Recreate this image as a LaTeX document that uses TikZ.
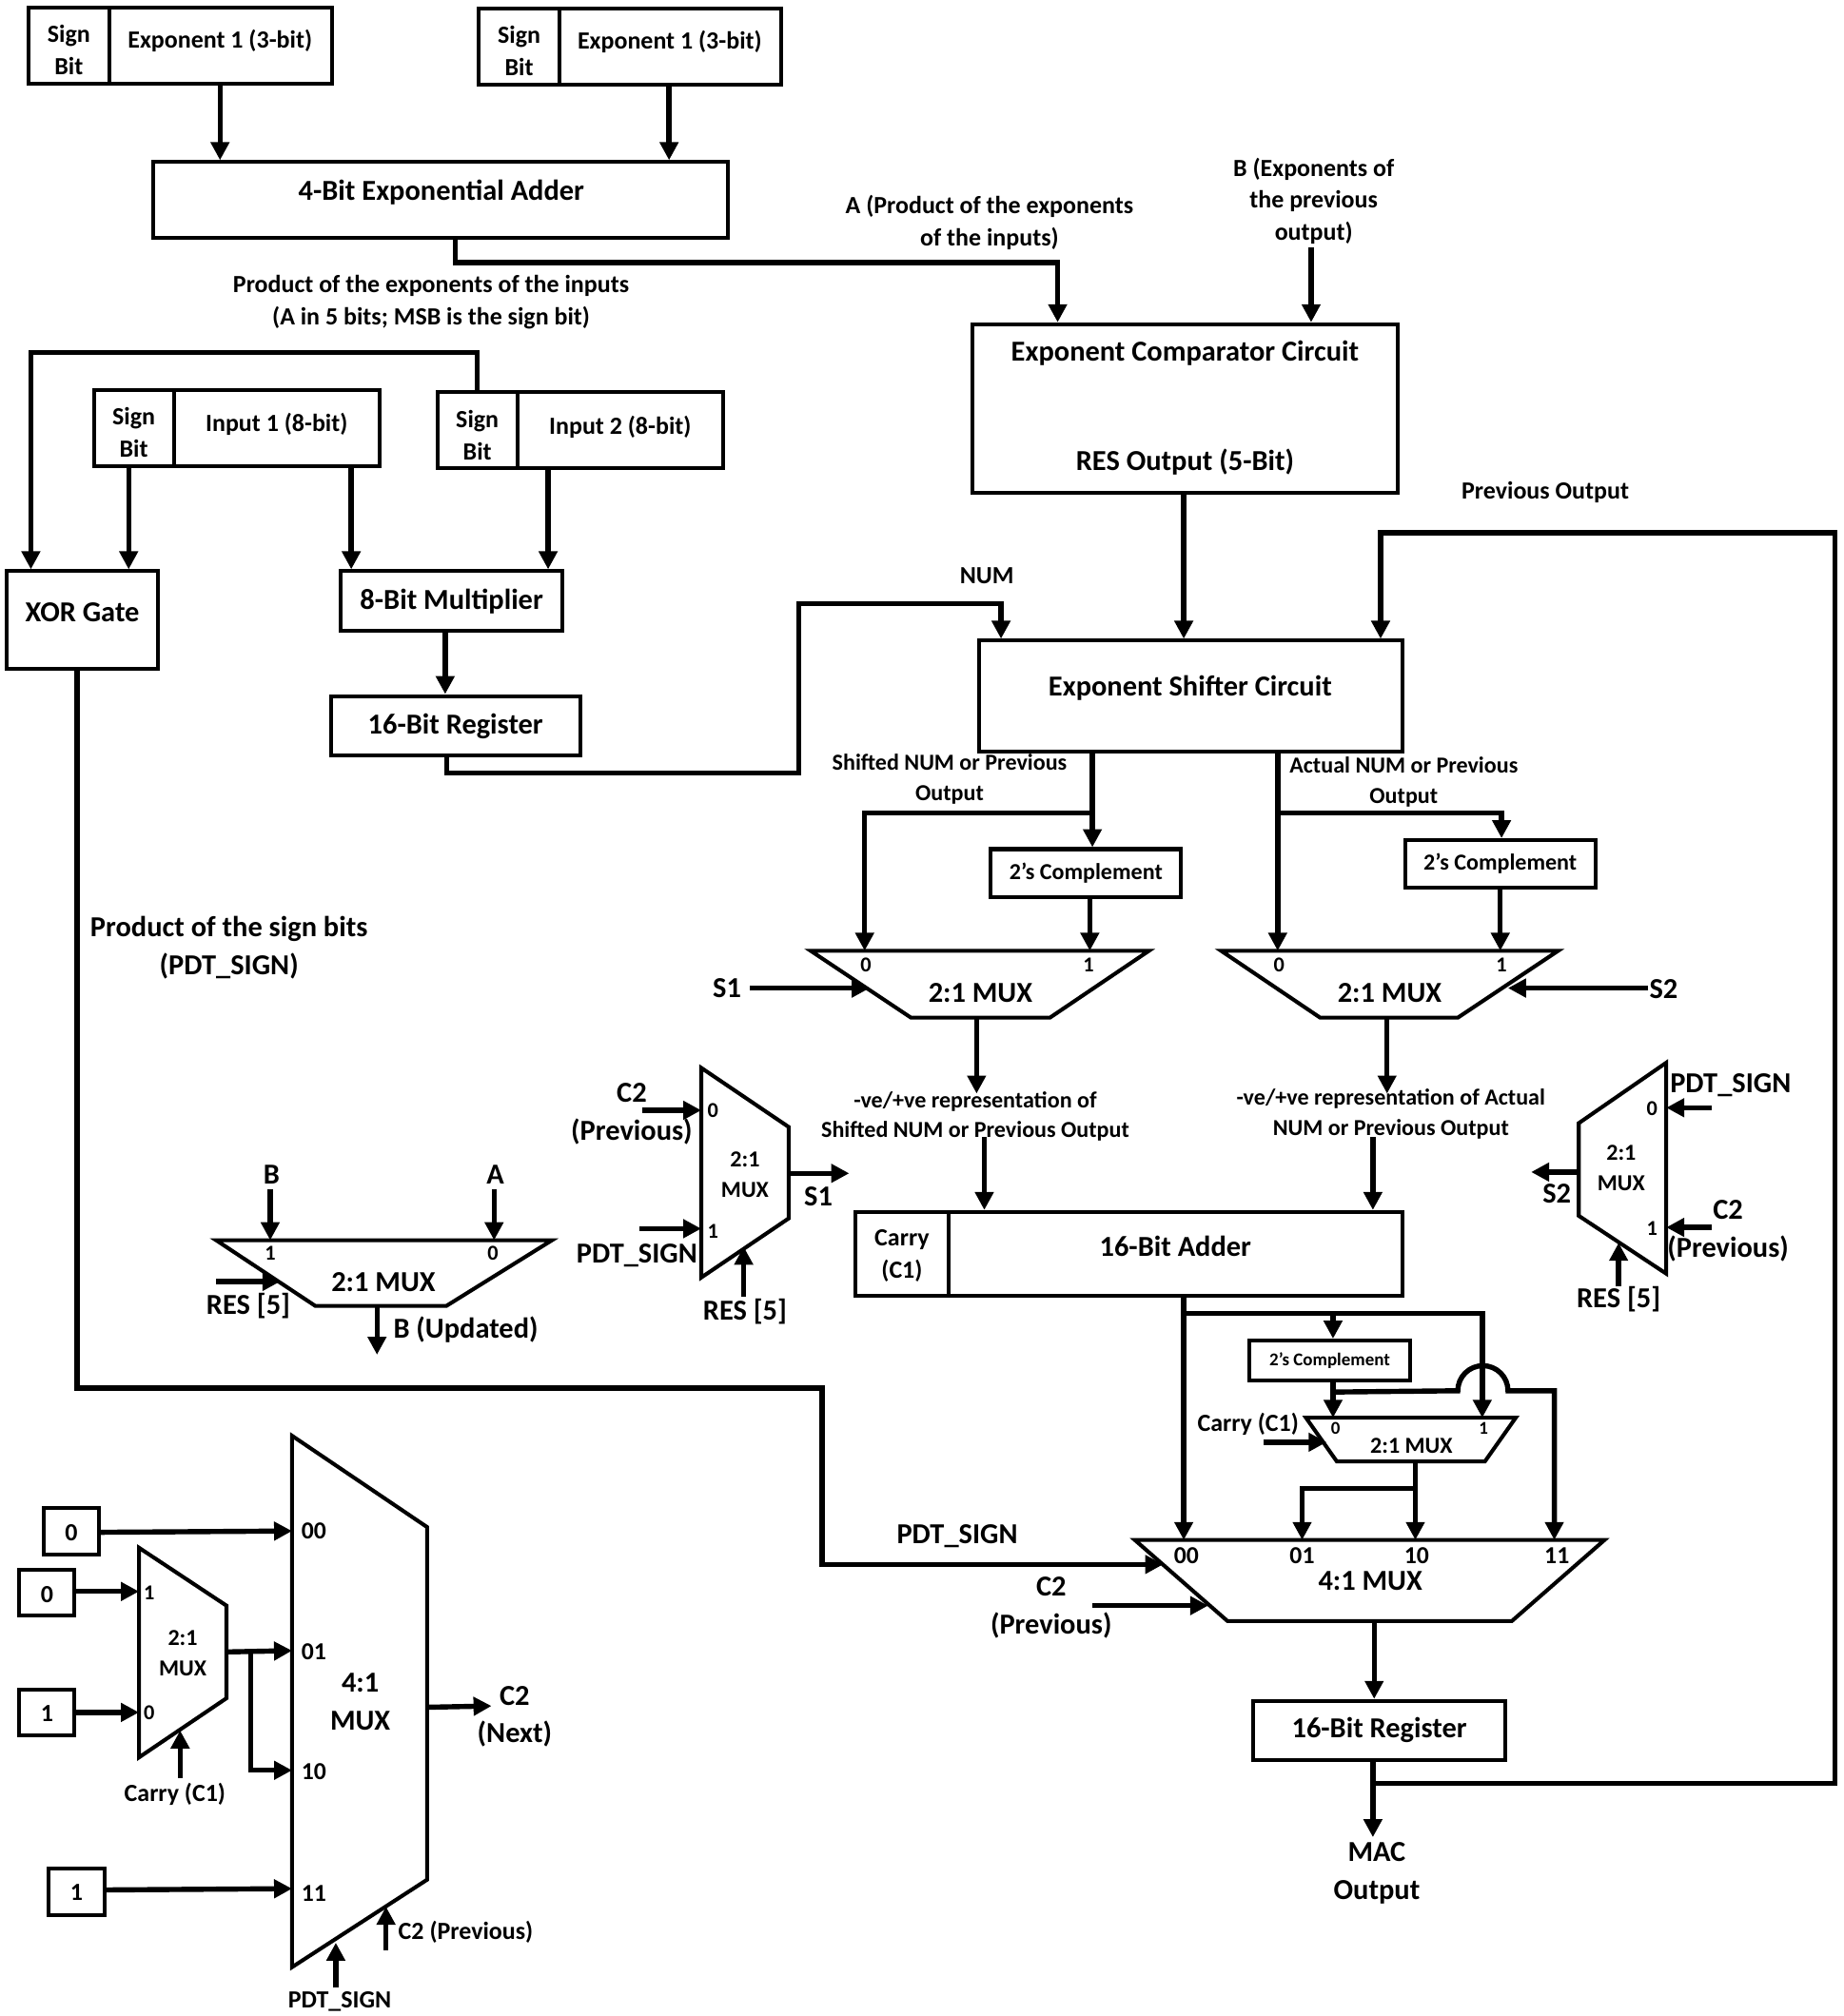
\documentclass[tikz,border=0pt]{standalone}
\usepackage{fontspec}
\setmainfont{Carlito}
\usetikzlibrary{arrows.meta}
\tikzset{
	blk/.style={draw,line width=3pt,inner sep=0pt,align=center},
	wire/.style={line width=4pt},
	arr/.style={wire,-{Triangle[length=14pt,width=14pt]}},
	txt/.style={inner sep=0pt,align=center,yshift=-0.8pt,font=\fontsize{19.2}{25}\selectfont\bfseries},
	lit/.style={inner sep=0pt,align=center,yshift=-0.8pt,font=\fontsize{17.8}{23.5}\selectfont\bfseries},
	big/.style={inner sep=0pt,align=center,yshift=-0.8pt,font=\fontsize{22.5}{29.5}\selectfont\bfseries},
	pin/.style={inner sep=0pt,font=\fontsize{16.5}{18}\selectfont\bfseries},
	lpin/.style={inner sep=0pt,font=\fontsize{19}{20}\selectfont\bfseries},
	tiny/.style={inner sep=0pt,font=\fontsize{14}{16}\selectfont\bfseries},
}
\begin{document}
\begin{tikzpicture}[x=1pt,y=-1pt,line join=miter]
		\useasboundingbox (0,0) rectangle (1433,1567);
		\node[blk,minimum width=63pt,minimum height=59pt] (signA) at (53.5,35.5) {};
		\node[txt] (signAT) at (53.5,38) {Sign\\Bit};
		\node[blk,minimum width=173pt,minimum height=59pt] (expA) at (171.5,35.5) {};
		\node[txt] (expAT) at (171,31) {Exponent 1 (3-bit)};
		\node[blk,minimum width=63pt,minimum height=59pt] (signB) at (403.5,36.5) {};
		\node[txt] (signBT) at (403.5,39) {Sign\\Bit};
		\node[blk,minimum width=172pt,minimum height=59pt] (expB) at (521,36.5) {};
		\node[txt] (expBT) at (520.5,32) {Exponent 1 (3-bit)};
		\node[blk,minimum width=447pt,minimum height=59pt] (expadd) at (342.5,155.5) {};
		\node[big] (expaddT) at (343,149) {4-Bit Exponential Adder};
		\node[blk,minimum width=330pt,minimum height=131pt] (cmp) at (921,317.5) {};
		\node[big] (cmpT) at (921,274) {Exponent Comparator Circuit};
		\node[big] (cmpR) at (921,358) {RES Output (5-Bit)};
		\node[blk,minimum width=62pt,minimum height=59pt] (signC) at (104,332.5) {};
		\node[txt] (signCT) at (104,335.5) {Sign\\Bit};
		\node[blk,minimum width=160pt,minimum height=59pt] (inA) at (215,332.5) {};
		\node[txt] (inAT) at (215,329) {Input 1 (8-bit)};
		\node[blk,minimum width=62pt,minimum height=59pt] (signD) at (371,334.5) {};
		\node[txt] (signDT) at (371,337.5) {Sign\\Bit};
		\node[blk,minimum width=160pt,minimum height=59pt] (inB) at (482,334.5) {};
		\node[txt] (inBT) at (482,331) {Input 2 (8-bit)};
		\node[blk,minimum width=118pt,minimum height=76pt] (xorg) at (64,482) {};
		\node[big] (xorgT) at (64,475) {XOR Gate};
		\node[blk,minimum width=172pt,minimum height=46pt] (mult) at (351,467) {};
		\node[big] (multT) at (351,466.5) {8-Bit Multiplier};
		\node[blk,minimum width=194pt,minimum height=46pt] (regA) at (354,564) {};
		\node[big] (regAT) at (354,563.5) {16-Bit Register};
		\node[blk,minimum width=329pt,minimum height=86pt] (shift) at (925.5,541) {};
		\node[big] (shiftT) at (925,534) {Exponent Shifter Circuit};
		\node[blk,lit,yshift=0.8pt,minimum width=148pt,minimum height=37pt] (twoA) at (844,678.5) {2’s Complement};
		\node[blk,lit,yshift=0.8pt,minimum width=148pt,minimum height=37pt] (twoB) at (1166,671.5) {2’s Complement};
		\node[blk,minimum width=72pt,minimum height=65pt] (carry) at (701,974.5) {};
		\node[txt] (carryT) at (701,975) {Carry\\(C1)};
		\node[blk,minimum width=353pt,minimum height=65pt] (addr) at (913.5,974.5) {};
		\node[big] (addrT) at (913.5,968) {16-Bit Adder};
		\node[blk,tiny,minimum width=125pt,minimum height=31pt] (twoC) at (1033.5,1057.5) {2’s Complement};
		\node[blk,minimum width=196pt,minimum height=46pt] (regB) at (1072,1345) {};
		\node[big] (regBT) at (1072,1344) {16-Bit Register};
		\node[blk,minimum width=43pt,minimum height=36pt] (zeroA) at (55.5,1190) {};
		\node[txt] (zeroAT) at (55.5,1190.5) {0};
		\node[blk,minimum width=43pt,minimum height=36pt] (zeroB) at (36.5,1238) {};
		\node[txt] (zeroBT) at (36.5,1238.5) {0};
		\node[blk,minimum width=43pt,minimum height=36pt] (oneA) at (36.5,1331) {};
		\node[txt] (oneAT) at (36.5,1331) {1};
		\node[blk,minimum width=43pt,minimum height=36pt] (oneB) at (59.5,1470.5) {};
		\node[txt] (oneBT) at (59.5,1470) {1};

		\draw[blk] (630,739) coordinate (mS) -- (893,739) -- (816,791) -- (708,791) coordinate (mSb) -- cycle;
		\draw[blk] (949,739) coordinate (mT) -- (1211,739) -- (1133,791) -- (1026,791) coordinate (mTb) -- cycle;
		\draw[blk] (168,964) coordinate (mB) -- (429,964) -- (347,1015) -- (245,1015) coordinate (mBb) -- cycle;
		\draw[blk] (545,830) coordinate (mP) -- (613,876) coordinate (mPr) -- (613,947) -- (545,993) -- cycle;
		\draw[blk] (1295,826) coordinate (mQ) -- (1227,873) coordinate (mQr) -- (1227,945) -- (1295,990) -- cycle;
		\draw[blk] (1015,1102) coordinate (mC) -- (1178,1102) -- (1154,1136) -- (1039,1136) coordinate (mCb) -- cycle;
		\draw[blk] (882,1197) coordinate (mF) -- (1247,1197) -- (1175,1260) -- (954,1260) coordinate (mFb) -- cycle;
		\draw[blk] (227,1116) coordinate (mL) -- (332,1187) coordinate (mLr) -- (332,1461) -- (227,1529) -- cycle;
		\draw[blk] (108,1203) coordinate (mK) -- (176,1248) coordinate (mKr) -- (176,1320) -- (108,1366) -- cycle;

		\draw[arr] (171,0 |- expA.south) -- (171,0 |- expadd.north);
		\draw[arr] (520,0 |- expB.south) -- (520,0 |- expadd.north);
		\draw[arr] (354,0 |- expadd.south) -- (354,204) -- (822,204) -- (822,0 |- cmp.north);
		\coordinate (bIn) at (1019,192);
		\draw[arr] (bIn) -- (1019,0 |- cmp.north);
		\draw[arr] (920,0 |- cmp.south) -- (920,0 |- shift.north);
		\draw[arr] (371,0 |- signD.north) -- (371,274) -- (24,274) -- (24,0 |- xorg.north);
		\draw[arr] (100,0 |- signC.south) -- (100,0 |- xorg.north);
		\draw[arr] (273,0 |- inA.south) -- (273,0 |- mult.north);
		\draw[arr] (426,0 |- inB.south) -- (426,0 |- mult.north);
		\draw[arr] (346,0 |- mult.south) -- (346,0 |- regA.north);
		\draw[arr] (347,0 |- regA.south) -- (347,601) -- (621,601) -- (621,469) -- (778,469) -- (778,0 |- shift.north);
		\draw[arr] (1067,1386) -- (1426,1386) -- (1426,414) -- (1073,414) -- (1073,0 |- shift.north);
		\draw[arr] (849,0 |- shift.south) -- (849,0 |- twoA.north);
		\draw[arr] (849,632) -- (672,632) -- (672,0 |- mS);
		\draw[arr] (847,0 |- twoA.south) -- (847,0 |- mS);
		\draw[arr] (993,0 |- shift.south) -- (993,0 |- mT);
		\draw[arr] (993,632) -- (1167,632) -- (1167,0 |- twoB.north);
		\draw[arr] (1166,0 |- twoB.south) -- (1166,0 |- mT);
		\coordinate (sOne) at (583,768);
		\coordinate (sTwo) at (1281,768);
		\draw[arr] (sOne) -- (676,768);
		\draw[arr] (sTwo) -- (1172,768);
		\draw[arr] (759,0 |- mSb) -- (759,850);
		\draw[arr] (765,884) -- (765,0 |- addr.north);
		\draw[arr] (1078,0 |- mTb) -- (1078,850);
		\draw[arr] (1067,884) -- (1067,0 |- addr.north);
		\draw[arr] (mPr |- 0,912) -- (660,912);
		\draw[arr] (mQr |- 0,911) -- (1190,911);
		\draw[arr] (499,863) -- (mP |- 0,863);
		\draw[arr] (497,955) -- (mP |- 0,955);
		\draw[arr] (578,1008) -- (578,969);
		\draw[arr] (1330,861) -- (mQ |- 0,861);
		\draw[arr] (1330,954) -- (mQ |- 0,954);
		\draw[arr] (1258,1000) -- (1258,966);
		\draw[arr] (210,924) -- (210,0 |- mB);
		\draw[arr] (384,924) -- (384,0 |- mB);
		\draw[arr] (168,996) -- (218,996);
		\draw[arr] (293,0 |- mBb) -- (293,1053);
		\draw[arr] (920,0 |- addr.south) -- (920,0 |- mF);
		\draw[arr] (920,1021) -- (1152,1021) -- (1152,0 |- mC);
		\draw[arr] (1036,1021) -- (1036,0 |- twoC.north);
		\draw[arr] (1036,0 |- twoC.south) -- (1036,0 |- mC);
		\draw[arr] (1036,1082) -- (1133,1081) arc[start angle=180,end angle=0,radius=19.5pt] -- (1208,1081) -- (1208,0 |- mF);
		\draw[arr] (982,1121) -- (1031,1121);
		\draw[arr] (1100,0 |- mCb) -- (1100,0 |- mF);
		\draw[arr] (1100,1157) -- (1012,1157) -- (1012,0 |- mF);
		\draw[arr] (60,0 |- xorg.south) -- (60,1079) -- (639,1079) -- (639,1216) -- (904,1216);
		\draw[arr] (849,1248) -- (939,1248);
		\draw[arr] (1068,0 |- mFb) -- (1068,0 |- regB.north);
		\draw[arr] (1067,0 |- regB.south) -- (1067,1428);
		\draw[arr] (zeroA.east |- 0,1191) -- (mL |- 0,1190);
		\draw[arr] (zeroB.east |- 0,1237) -- (mK |- 0,1237);
		\draw[arr] (oneA.east |- 0,1331) -- (mK |- 0,1331);
		\draw[arr] (mKr |- 0,1284) -- (mL |- 0,1283);
		\draw[arr] (195,1284) -- (195,1376) -- (mL |- 0,1376);
		\draw[arr] (oneB.east |- 0,1469) -- (mL |- 0,1468);
		\draw[arr] (140,1382) -- (140,1345);
		\draw[arr] (mLr |- 0,1327) -- (382,1326);
		\draw[arr] (261,1545) -- (261,1510);
		\draw[arr] (300,1516) -- (300,1482);

		\node[txt] (lblProd) at (335,234) {Product of the exponents of the inputs\\(A in 5 bits; MSB is the sign bit)};
		\node[txt] (lblA) at (769,172) {A (Product of the exponents\\of the inputs)};
		\node[txt] (lblB) at (1021,155.5) {B (Exponents of\\the previous\\output)};
		\node[txt] (lblPrev) at (1201,382) {Previous Output};
		\node[txt] (lblNum) at (767,447) {NUM};
		\node[lit] (lblSh) at (738,605) {Shifted NUM or Previous\\Output};
		\node[lit] (lblAc) at (1091,607) {Actual NUM or Previous\\Output};
		\node[big] (lblPs) at (178,735.5) {Product of the sign bits\\(PDT\_SIGN)};
		\node[big] (lblSa) at (565,767) {S1};
		\node[big] (lblSb) at (1293,768) {S2};
		\node[lit] (lblNegA) at (758,867) {-ve/+ve representation of\\Shifted NUM or Previous Output};
		\node[lit] (lblNegB) at (1081,865) {-ve/+ve representation of Actual\\NUM or Previous Output};
		\node[big] (lblCa) at (491,865) {C2\\(Previous)};
		\node[big] (lblPa) at (495,975) {PDT\_SIGN};
		\node[big] (lblSc) at (636,929) {S1};
		\node[big] (lblRa) at (579,1019) {RES [5]};
		\node[big] (lblPb) at (1345,843) {PDT\_SIGN};
		\node[big] (lblCb) at (1343,956) {C2\\(Previous)};
		\node[big] (lblSd) at (1210,927) {S2};
		\node[big] (lblRb) at (1258,1009) {RES [5]};
		\node[big] (lblBt) at (211,912) {B};
		\node[big] (lblAt) at (385,912) {A};
		\node[big] (lblRc) at (193,1014) {RES [5]};
		\node[big] (lblBu) at (362,1033) {B (Updated)};
		\node[txt] (lblCc) at (970,1106) {Carry (C1)};
		\node[big] (lblPd) at (744,1193) {PDT\_SIGN};
		\node[big] (lblCd) at (817,1249) {C2\\(Previous)};
		\node[big] (lblMac) at (1070,1455.5) {MAC\\Output};
		\node[big] (lblCn) at (400,1333.5) {C2\\(Next)};
		\node[txt] (lblCk) at (136,1394) {Carry (C1)};
		\node[txt] (lblCp) at (362,1501) {C2 (Previous)};
		\node[txt] (lblPs2) at (264,1555) {PDT\_SIGN};

		\node[pin] (pSz) at (673,750) {0};
		\node[pin] (pSo) at (846,750) {1};
		\node[pin] (pTz) at (994,750) {0};
		\node[pin] (pTo) at (1167,750) {1};
		\node[big] (muxS) at (762,771) {2:1 MUX};
		\node[big] (muxT) at (1080,771) {2:1 MUX};
		\node[pin] (pBo) at (210,974) {1};
		\node[pin] (pBz) at (383,974) {0};
		\node[big] (muxB) at (298,996) {2:1 MUX};
		\node[pin] (pPz) at (554,863) {0};
		\node[pin] (pPo) at (554,957) {1};
		\node[lit] (muxP) at (579,912) {2:1\\MUX};
		\node[pin] (pQz) at (1284,862) {0};
		\node[pin] (pQo) at (1284,955) {1};
		\node[lit] (muxQ) at (1260,907) {2:1\\MUX};
		\node[tiny] (pCz) at (1038,1110) {0};
		\node[tiny] (pCo) at (1153,1110) {1};
		\node[lit] (muxC) at (1097,1123) {2:1 MUX};
		\node[lpin] (pFa) at (922,1209) {00};
		\node[lpin] (pFb) at (1012,1209) {01};
		\node[lpin] (pFc) at (1101,1209) {10};
		\node[lpin] (pFd) at (1210,1209) {11};
		\node[big] (muxF) at (1065,1228) {4:1 MUX};
		\node[lpin] (pLa) at (244,1190) {00};
		\node[lpin] (pLb) at (244,1284) {01};
		\node[lpin] (pLc) at (244,1377) {10};
		\node[lpin] (pLd) at (244,1472) {11};
		\node[big] (muxL) at (280,1322) {4:1\\MUX};
		\node[pin] (pKo) at (116,1238) {1};
		\node[pin] (pKz) at (116,1331) {0};
		\node[lit] (muxK) at (142,1284) {2:1\\MUX};
\end{tikzpicture}
\end{document}
